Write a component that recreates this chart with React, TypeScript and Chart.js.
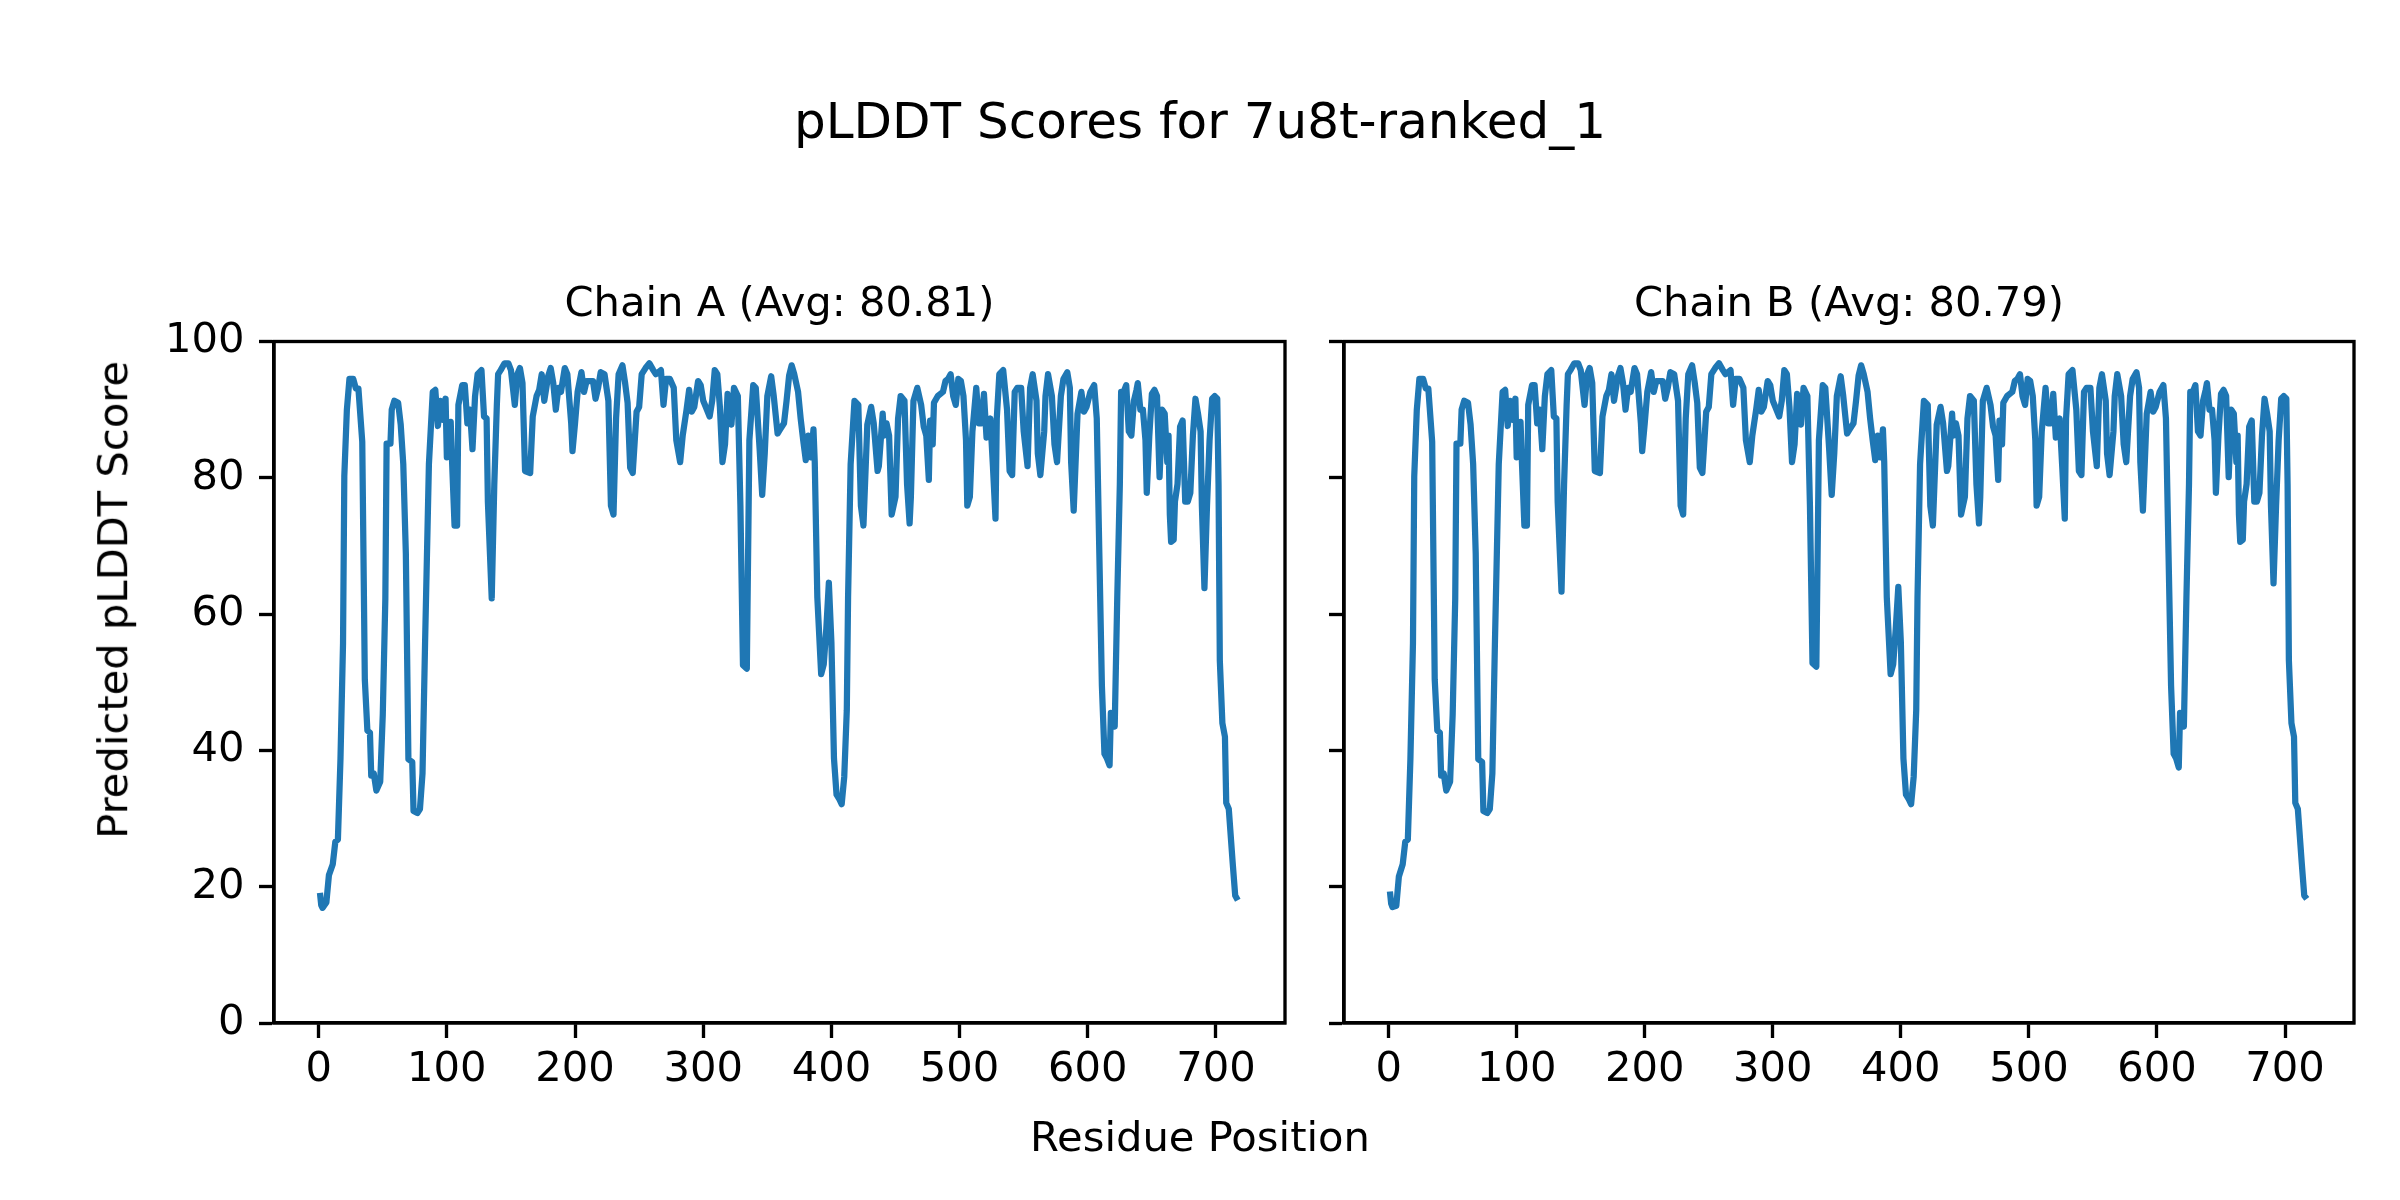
import React, { useEffect, useRef } from "react";
import { Chart, registerables } from "chart.js";

Chart.register(...registerables);

// ---------------- text ----------------
const mainTitle = "pLDDT Scores for 7u8t-ranked_1";
const xAxisLabel = "Residue Position";
const yAxisLabel = "Predicted pLDDT Score";
const chainTitles = ["Chain A (Avg: 80.81)", "Chain B (Avg: 80.79)"];

// ---------------- ticks ----------------
const xTickValues = [0, 100, 200, 300, 400, 500, 600, 700];
const yTickValues = [0, 20, 40, 60, 80, 100];

// ---------------- data ----------------
const residuePositions = [
  1, 2, 3, 6, 8, 11, 13, 15, 17, 19,
  20, 22, 24, 27, 29, 31, 34, 36, 38, 40,
  41, 43, 45, 48, 50, 52, 53, 56, 57, 59,
  62, 64, 66, 68, 70, 73, 74, 77, 79, 81,
  83, 86, 89, 91, 93, 95, 97, 99, 100, 103,
  104, 106, 108, 109, 112, 114, 116, 118, 120, 122,
  124, 127, 129, 131, 132, 135, 137, 139, 140, 142,
  145, 148, 150, 153, 155, 157, 159, 161, 165, 167,
  170, 172, 174, 176, 179, 181, 183, 185, 187, 189,
  192, 194, 197, 198, 200, 202, 205, 207, 209, 211,
  214, 216, 218, 220, 223, 226, 228, 230, 232, 234,
  237, 239, 241, 243, 245, 248, 250, 252, 255, 258,
  261, 263, 267, 269, 271, 274, 277, 279, 282, 284,
  287, 289, 291, 293, 296, 298, 300, 302, 305, 307,
  309, 311, 313, 315, 317, 319, 320, 322, 324, 327,
  329, 331, 334, 336, 339, 341, 344, 346, 348, 350,
  353, 355, 358, 360, 363, 365, 367, 369, 371, 374,
  376, 378, 380, 382, 384, 386, 387, 389, 392, 394,
  396, 398, 400, 402, 404, 406, 408, 410, 412, 413,
  415, 418, 421, 423, 425, 428, 431, 433, 436, 437,
  440, 441, 443, 445, 447, 450, 452, 454, 457, 459,
  461, 462, 464, 467, 470, 472, 474, 476, 477, 479,
  480, 483, 487, 489, 491, 493, 495, 497, 499, 501,
  503, 505, 506, 508, 510, 513, 515, 517, 519, 521,
  524, 526, 528, 529, 531, 534, 537, 539, 541, 543,
  545, 548, 550, 553, 555, 557, 560, 561, 563, 566,
  567, 569, 572, 574, 576, 579, 581, 584, 586, 587,
  589, 592, 595, 597, 599, 602, 605, 607, 609, 611,
  613, 615, 617, 618, 621, 623, 625, 626, 628, 630,
  632, 634, 636, 638, 639, 641, 643, 645, 646, 648,
  650, 652, 654, 656, 657, 658, 660, 662, 663, 664,
  665, 667, 668, 670, 672, 674, 676, 678, 680, 682,
  684, 686, 688, 689, 691, 693, 695, 697, 699, 701,
  702, 703, 705, 707, 708, 710, 713, 715, 717,
];

const scoresA = [
  19.1, 17.3, 16.9, 17.7, 21.7, 23.3, 26.6, 26.9, 38.7, 55.7,
  80.2, 90.0, 94.5, 94.5, 93.1, 93.1, 85.3, 50.4, 42.9, 42.6,
  36.3, 36.6, 34.1, 35.4, 45.2, 62.2, 85.0, 85.0, 90.0, 91.3,
  91.0, 87.8, 82.0, 68.9, 38.7, 38.3, 31.1, 30.8, 31.4, 36.6,
  55.7, 82.0, 92.6, 92.9, 87.6, 91.3, 88.5, 91.6, 83.0, 88.2,
  82.7, 73.0, 73.0, 90.7, 93.6, 93.6, 88.0, 90.0, 84.2, 92.0,
  95.2, 95.8, 89.0, 88.7, 76.5, 62.3, 79.0, 90.7, 95.2, 95.8,
  96.8, 96.8, 95.8, 90.7, 95.2, 96.1, 93.9, 81.0, 80.7, 89.0,
  92.0, 92.9, 95.2, 91.3, 94.9, 96.1, 93.9, 90.0, 93.2, 92.6,
  96.1, 95.2, 88.0, 83.9, 88.0, 92.6, 95.5, 92.6, 94.2, 94.2,
  94.2, 91.6, 93.2, 95.5, 95.2, 91.3, 75.9, 74.6, 88.7, 95.2,
  96.5, 94.0, 91.0, 81.5, 80.7, 89.7, 90.4, 95.2, 96.1, 96.8,
  95.8, 95.2, 95.8, 90.7, 94.5, 94.5, 93.2, 85.5, 82.3, 86.2,
  90.0, 92.9, 89.7, 90.4, 94.2, 93.6, 91.3, 90.4, 89.0, 91.3,
  95.8, 95.2, 90.4, 82.3, 84.9, 92.3, 90.7, 87.8, 93.2, 92.0,
  75.9, 52.5, 52.0, 85.5, 93.6, 93.2, 84.2, 77.5, 83.6, 92.0,
  94.9, 92.0, 86.5, 87.1, 88.0, 91.3, 95.0, 96.5, 95.2, 92.6,
  88.7, 85.5, 82.6, 86.2, 83.0, 87.1, 82.3, 62.5, 51.2, 52.6,
  57.8, 64.6, 55.8, 38.8, 33.5, 32.9, 32.1, 36.1, 45.9, 62.5,
  82.0, 91.3, 90.7, 75.9, 73.0, 87.8, 90.4, 88.0, 81.0, 81.7,
  89.4, 86.2, 88.0, 86.2, 74.6, 77.2, 88.7, 92.0, 91.3, 79.1,
  73.3, 77.2, 91.3, 93.2, 90.7, 87.5, 86.2, 79.7, 88.4, 84.9,
  91.0, 92.0, 92.6, 94.2, 94.5, 95.2, 92.0, 90.7, 94.5, 94.2,
  92.0, 85.5, 75.9, 77.2, 86.8, 93.2, 88.0, 88.0, 92.3, 85.9,
  88.7, 81.7, 74.0, 88.7, 95.2, 95.8, 90.0, 81.0, 80.4, 92.6,
  93.2, 93.2, 86.8, 81.7, 93.2, 95.2, 91.3, 83.6, 80.4, 86.8,
  92.0, 95.2, 92.0, 84.9, 82.3, 92.0, 94.5, 95.5, 93.2, 82.3,
  75.2, 89.4, 92.6, 89.7, 90.4, 92.6, 93.6, 88.7, 69.0, 49.5,
  39.5, 38.8, 37.8, 45.5, 43.5, 62.5, 79.0, 92.6, 92.6, 93.6,
  86.8, 86.2, 91.3, 92.9, 93.9, 90.0, 90.0, 85.5, 77.8, 86.2,
  92.3, 92.9, 92.0, 80.1, 84.9, 90.0, 89.4, 82.3, 86.2, 74.6,
  70.6, 70.9, 76.5, 79.1, 87.5, 88.4, 76.5, 76.5, 77.8, 86.2,
  91.6, 89.4, 86.8, 75.9, 63.8, 75.9, 85.5, 91.6, 92.0, 91.6,
  79.0, 53.2, 44.0, 42.0, 32.3, 31.4, 23.6, 18.7, 18.0,
];

const scoresB = [
  19.3, 17.5, 17.0, 17.2, 21.5, 23.3, 26.6, 26.9, 38.7, 55.7,
  80.2, 90.0, 94.5, 94.5, 93.1, 93.1, 85.3, 50.4, 42.9, 42.6,
  36.3, 36.6, 34.1, 35.4, 45.2, 62.2, 85.0, 85.0, 90.0, 91.3,
  91.0, 87.8, 82.0, 68.9, 38.7, 38.3, 31.1, 30.8, 31.4, 36.6,
  55.7, 82.0, 92.6, 92.9, 87.6, 91.3, 88.5, 91.6, 83.0, 88.2,
  82.7, 73.0, 73.0, 90.7, 93.6, 93.6, 88.0, 90.0, 84.2, 92.0,
  95.2, 95.8, 89.0, 88.7, 76.5, 63.3, 79.0, 90.7, 95.2, 95.8,
  96.8, 96.8, 95.8, 90.7, 95.2, 96.1, 93.9, 81.0, 80.7, 89.0,
  92.0, 92.9, 95.2, 91.3, 94.9, 96.1, 93.9, 90.0, 93.2, 92.6,
  96.1, 95.2, 88.0, 83.9, 88.0, 92.6, 95.5, 92.6, 94.2, 94.2,
  94.2, 91.6, 93.2, 95.5, 95.2, 91.3, 75.9, 74.6, 88.7, 95.2,
  96.5, 94.0, 91.0, 81.5, 80.7, 89.7, 90.4, 95.2, 96.1, 96.8,
  95.8, 95.2, 95.8, 90.7, 94.5, 94.5, 93.2, 85.5, 82.3, 86.2,
  90.0, 92.9, 89.7, 90.4, 94.2, 93.6, 91.3, 90.4, 89.0, 91.3,
  95.8, 95.2, 90.4, 82.3, 84.9, 92.3, 90.7, 87.8, 93.2, 92.0,
  75.9, 52.8, 52.3, 85.5, 93.6, 93.2, 84.2, 77.5, 83.6, 92.0,
  94.9, 92.0, 86.5, 87.1, 88.0, 91.3, 95.0, 96.5, 95.2, 92.6,
  88.7, 85.5, 82.6, 86.2, 83.0, 87.1, 82.3, 62.5, 51.2, 52.6,
  57.8, 64.0, 55.8, 38.8, 33.5, 32.9, 32.1, 36.1, 45.9, 62.5,
  82.0, 91.3, 90.7, 75.9, 73.0, 87.8, 90.4, 88.0, 81.0, 81.7,
  89.4, 86.2, 88.0, 86.2, 74.6, 77.2, 88.7, 92.0, 91.3, 79.1,
  73.3, 77.2, 91.3, 93.2, 90.7, 87.5, 86.2, 79.7, 88.4, 84.9,
  91.0, 92.0, 92.6, 94.2, 94.5, 95.2, 92.0, 90.7, 94.5, 94.2,
  92.0, 85.5, 75.9, 77.2, 86.8, 93.2, 88.0, 88.0, 92.3, 85.9,
  88.7, 81.7, 74.0, 88.7, 95.2, 95.8, 90.0, 81.0, 80.4, 92.6,
  93.2, 93.2, 86.8, 81.7, 93.2, 95.2, 91.3, 83.6, 80.4, 86.8,
  92.0, 95.2, 92.0, 84.9, 82.3, 92.0, 94.5, 95.5, 93.2, 82.3,
  75.2, 89.4, 92.6, 89.7, 90.4, 92.6, 93.6, 88.7, 69.0, 49.5,
  39.5, 38.8, 37.5, 45.5, 43.5, 62.5, 79.0, 92.6, 92.6, 93.6,
  86.8, 86.2, 91.3, 92.9, 93.9, 90.0, 90.0, 85.5, 77.8, 86.2,
  92.3, 92.9, 92.0, 80.1, 84.9, 90.0, 89.4, 82.3, 86.2, 74.6,
  70.6, 70.9, 76.5, 79.1, 87.5, 88.4, 76.5, 76.5, 77.8, 86.2,
  91.6, 89.4, 86.8, 75.9, 64.5, 75.9, 85.5, 91.6, 92.0, 91.6,
  79.0, 53.2, 44.0, 42.0, 32.3, 31.4, 23.6, 18.7, 18.2,
];

// ---------------- layout / style ----------------
const FONT = "'DejaVu Sans', sans-serif";
const FIG_W = 2400;
const FIG_H = 1200;
const AX_TOP = 341.5;
const AX_BOTTOM = 1023;
const X_MIN = -34.85;
const X_MAX = 753.85;
const TICK_FONT = 41.67;
const TITLE_FONT = 50;
const LINE_COLOR = "#1f77b4";
const SPINE_W = 3.33;
const X_AXIS_BOX = 100;

const framePlugin = {
  id: "frame",
  afterDraw(chart: any) {
    const { ctx, chartArea } = chart;
    ctx.save();
    ctx.strokeStyle = "#000";
    ctx.lineWidth = SPINE_W;
    ctx.strokeRect(
      chartArea.left,
      chartArea.top,
      chartArea.right - chartArea.left,
      chartArea.bottom - chartArea.top
    );
    ctx.restore();
  },
};

type PanelProps = {
  canvasLeft: number;
  canvasWidth: number;
  plotLeft: number;
  plotRight: number;
  scores: number[];
  showYLabels: boolean;
  yAxisBox: number;
};

function Panel({ canvasLeft, canvasWidth, plotLeft, plotRight, scores, showYLabels, yAxisBox }: PanelProps) {
  const ref = useRef<HTMLCanvasElement | null>(null);

  useEffect(() => {
    if (!ref.current) return;
    const points = residuePositions.map((x, i) => ({ x, y: scores[i] }));
    const chart = new Chart(ref.current, {
      type: "line",
      data: {
        datasets: [
          {
            data: points,
            borderColor: LINE_COLOR,
            backgroundColor: LINE_COLOR,
            borderWidth: 6.25,
            pointRadius: 0,
            tension: 0,
            fill: false,
            borderJoinStyle: "round",
            borderCapStyle: "butt",
          },
        ],
      },
      options: {
        responsive: false,
        animation: false,
        devicePixelRatio: 1,
        layout: {
          padding: {
            left: plotLeft - canvasLeft - yAxisBox,
            right: canvasLeft + canvasWidth - plotRight,
            top: AX_TOP,
            bottom: FIG_H - AX_BOTTOM - X_AXIS_BOX,
          },
        },
        plugins: {
          legend: { display: false },
          tooltip: { enabled: false },
          title: { display: false },
        },
        scales: {
          x: {
            type: "linear",
            min: X_MIN,
            max: X_MAX,
            afterBuildTicks: (axis: any) => {
              axis.ticks = xTickValues.map((value) => ({ value }));
            },
            afterFit: (axis: any) => {
              axis.height = X_AXIS_BOX;
            },
            ticks: {
              color: "#000",
              font: { family: FONT, size: TICK_FONT },
              padding: 7,
              maxRotation: 0,
              autoSkip: false,
            },
            grid: {
              display: true,
              drawOnChartArea: false,
              drawTicks: true,
              tickLength: 15,
              tickWidth: SPINE_W,
              tickColor: "#000",
            },
            border: { display: true, color: "#000", width: SPINE_W },
          },
          y: {
            type: "linear",
            min: 0,
            max: 100,
            afterBuildTicks: (axis: any) => {
              axis.ticks = yTickValues.map((value) => ({ value }));
            },
            afterFit: (axis: any) => {
              axis.width = yAxisBox;
            },
            ticks: {
              display: showYLabels,
              color: "#000",
              font: { family: FONT, size: TICK_FONT },
              padding: 14.6,
              autoSkip: false,
            },
            grid: {
              display: true,
              drawOnChartArea: false,
              drawTicks: true,
              tickLength: 15,
              tickWidth: SPINE_W,
              tickColor: "#000",
            },
            border: { display: true, color: "#000", width: SPINE_W },
          },
        },
      } as any,
      plugins: [framePlugin],
    });
    return () => chart.destroy();
  }, [canvasLeft, canvasWidth, plotLeft, plotRight, scores, showYLabels, yAxisBox]);

  return (
    <canvas
      ref={ref}
      width={canvasWidth}
      height={FIG_H}
      style={{ position: "absolute", left: canvasLeft, top: 0, width: canvasWidth, height: FIG_H }}
    />
  );
}

// text placed by its baseline (DejaVu Sans: baseline sits 0.846em below the top of a 1em line box)
function HText({ text, cx, baseline, size }: { text: string; cx: number; baseline: number; size: number }) {
  const w = 1400;
  return (
    <div
      style={{
        position: "absolute",
        left: cx - w / 2,
        top: baseline - 0.846 * size,
        width: w,
        height: size,
        lineHeight: `${size}px`,
        fontSize: size,
        fontFamily: FONT,
        color: "#000",
        textAlign: "center",
        whiteSpace: "nowrap",
      }}
    >
      {text}
    </div>
  );
}

function VText({ text, baselineX, cy, size }: { text: string; baselineX: number; cy: number; size: number }) {
  const w = 1000;
  const cx = baselineX + size / 2 - 0.846 * size;
  return (
    <div
      style={{
        position: "absolute",
        left: cx - w / 2,
        top: cy - size / 2,
        width: w,
        height: size,
        lineHeight: `${size}px`,
        fontSize: size,
        fontFamily: FONT,
        color: "#000",
        textAlign: "center",
        whiteSpace: "nowrap",
        transform: "rotate(-90deg)",
        transformOrigin: "50% 50%",
      }}
    >
      {text}
    </div>
  );
}

export default function App() {
  const panels = [
    { canvasLeft: 0, canvasWidth: 1314, plotLeft: 274, plotRight: 1285, scores: scoresA, showYLabels: true, yAxisBox: 140 },
    { canvasLeft: 1314, canvasWidth: FIG_W - 1314, plotLeft: 1344, plotRight: 2354, scores: scoresB, showYLabels: false, yAxisBox: 30 },
  ];
  return (
    <div
      style={{
        position: "absolute",
        left: 0,
        top: 0,
        width: FIG_W,
        height: FIG_H,
        background: "#fff",
        overflow: "hidden",
      }}
    >
      {panels.map((p, i) => (
        <Panel key={i} {...p} />
      ))}
      <HText text={mainTitle} cx={1200} baseline={138} size={TITLE_FONT} />
      {panels.map((p, i) => (
        <HText
          key={"t" + i}
          text={chainTitles[i]}
          cx={(p.plotLeft + p.plotRight) / 2}
          baseline={316.5}
          size={TICK_FONT}
        />
      ))}
      <HText text={xAxisLabel} cx={1200} baseline={1151} size={TICK_FONT} />
      <VText text={yAxisLabel} baselineX={127} cy={600} size={TICK_FONT} />
    </div>
  );
}
